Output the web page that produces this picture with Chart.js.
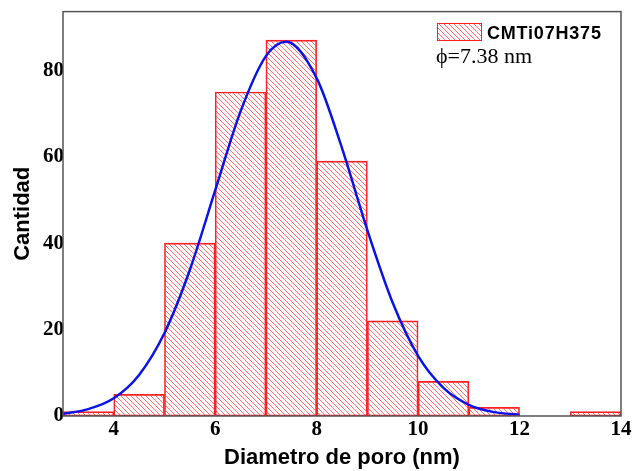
<!DOCTYPE html>
<html>
<head>
<meta charset="utf-8">
<script src="https://cdn.jsdelivr.net/npm/chart.js@4.4.1/dist/chart.umd.min.js"></script>
<style>
  html, body { margin: 0; padding: 0; background: #fff; }
  #wrap { width: 634px; height: 471px; }
</style>
</head>
<body>
<div id="wrap"><canvas id="chart" width="634" height="471"></canvas></div>
<script>
// ---- data ----
const binCenters = [3.5, 4.5, 5.5, 6.5, 7.5, 8.5, 9.5, 10.5, 11.5, 12.5, 13.5]; // 1 nm bins, 3..14
const counts     = [1, 5, 40, 75, 87, 59, 22, 8, 2, 0, 1];

// fitted curve (blue), sampled by eye every 0.5 nm
const fitX = [3, 3.5, 4, 4.5, 5, 5.5, 6, 6.5, 7, 7.4, 8, 8.5, 9, 9.5, 10, 10.5, 11, 11.5, 12];
const fitY = [0.5, 1.6, 4.1, 9.5, 19.2, 33.8, 52.2, 70.5, 83.3, 86.6, 78.2, 62.0, 43.0, 26.2, 13.9, 6.5, 2.6, 0.9, 0.3];

const xTicks = [4, 6, 8, 10, 12, 14];
const yTicks = [0, 20, 40, 60, 80];

const seriesName = 'CMTi07H375';
const meanLabel = 'ϕ=7.38 nm';

// ---- hatch fill ----
function makeHatch() {
  const c = document.createElement('canvas');
  c.width = 5; c.height = 5;
  const g = c.getContext('2d');
  g.strokeStyle = 'rgba(255,40,40,0.65)';
  g.lineWidth = 1;
  g.beginPath();
  g.moveTo(0, 0); g.lineTo(5, 5);
  g.moveTo(-3, 2); g.lineTo(3, 8);
  g.moveTo(2, -3); g.lineTo(8, 3);
  g.stroke();
  return g.createPattern(c, 'repeat');
}
const hatch = makeHatch();

// frame round the plot + legend text
const framePlugin = {
  id: 'frame',
  afterDraw(chart) {
    const ctx = chart.ctx, a = chart.chartArea;
    ctx.save();
    ctx.strokeStyle = '#555';
    ctx.lineWidth = 1.5;
    ctx.strokeRect(a.left, a.top, a.right - a.left, a.bottom - a.top);

    // legend
    ctx.fillStyle = hatch;
    ctx.fillRect(437, 23, 44, 17);
    ctx.strokeStyle = '#ff2020';
    ctx.lineWidth = 1;
    ctx.strokeRect(437.5, 23.5, 44, 17);
    ctx.fillStyle = '#000';
    ctx.textBaseline = 'alphabetic';
    ctx.font = 'bold 18px "Liberation Sans", Arial, sans-serif';
    ctx.letterSpacing = '0.8px';
    ctx.fillText(seriesName, 487, 39);
    ctx.letterSpacing = '0px';
    ctx.font = '22px "Liberation Serif", "Times New Roman", serif';
    ctx.fillText(meanLabel, 436, 63);
    ctx.restore();
  }
};

new Chart(document.getElementById('chart'), {
  type: 'bar',
  data: {
    datasets: [
      {
        type: 'line',
        data: fitX.map((x, i) => ({ x: x, y: fitY[i] })),
        borderColor: '#0a14e6',
        borderWidth: 2.5,
        pointRadius: 0,
        cubicInterpolationMode: 'monotone',
        fill: false,
        order: 0
      },
      {
        type: 'bar',
        data: binCenters.map((x, i) => ({ x: x, y: counts[i] })),
        backgroundColor: hatch,
        borderColor: '#ff2020',
        borderWidth: 1,
        borderSkipped: false,
        barPercentage: 1,
        categoryPercentage: 1,
        order: 1
      }
    ]
  },
  options: {
    responsive: false,
    animation: false,
    layout: { padding: { top: 11, right: 13, left: 0, bottom: 0 } },
    plugins: { legend: { display: false }, tooltip: { enabled: false } },
    scales: {
      x: {
        type: 'linear',
        offset: false,
        min: 3, max: 14,
        afterBuildTicks: s => { s.ticks = xTicks.map(v => ({ value: v })); },
        afterFit: s => { s.height = 55; },
        grid: { display: false, drawTicks: false },
        border: { display: false },
        ticks: {
          padding: 1,
          color: '#000',
          font: { family: '"Liberation Serif", "Times New Roman", serif', size: 21, weight: 'bold' }
        },
        title: {
          display: true,
          text: 'Diametro de poro (nm)',
          color: '#000',
          padding: { top: 2, bottom: 0 },
          font: { family: '"Liberation Sans", Arial, sans-serif', size: 22, weight: 'bold' }
        }
      },
      y: {
        min: 0, max: 93.6,
        afterBuildTicks: s => { s.ticks = yTicks.map(v => ({ value: v })); },
        afterFit: s => { s.width = 63; },
        grid: { display: false, drawTicks: false },
        border: { display: false },
        ticks: {
          padding: -1,
          color: '#000',
          font: { family: '"Liberation Serif", "Times New Roman", serif', size: 21, weight: 'bold' }
        },
        title: {
          display: true,
          text: 'Cantidad',
          color: '#000',
          padding: { top: 10, bottom: 0 },
          font: { family: '"Liberation Sans", Arial, sans-serif', size: 22, weight: 'bold' }
        }
      }
    }
  },
  plugins: [framePlugin]
});
</script>
</body>
</html>
